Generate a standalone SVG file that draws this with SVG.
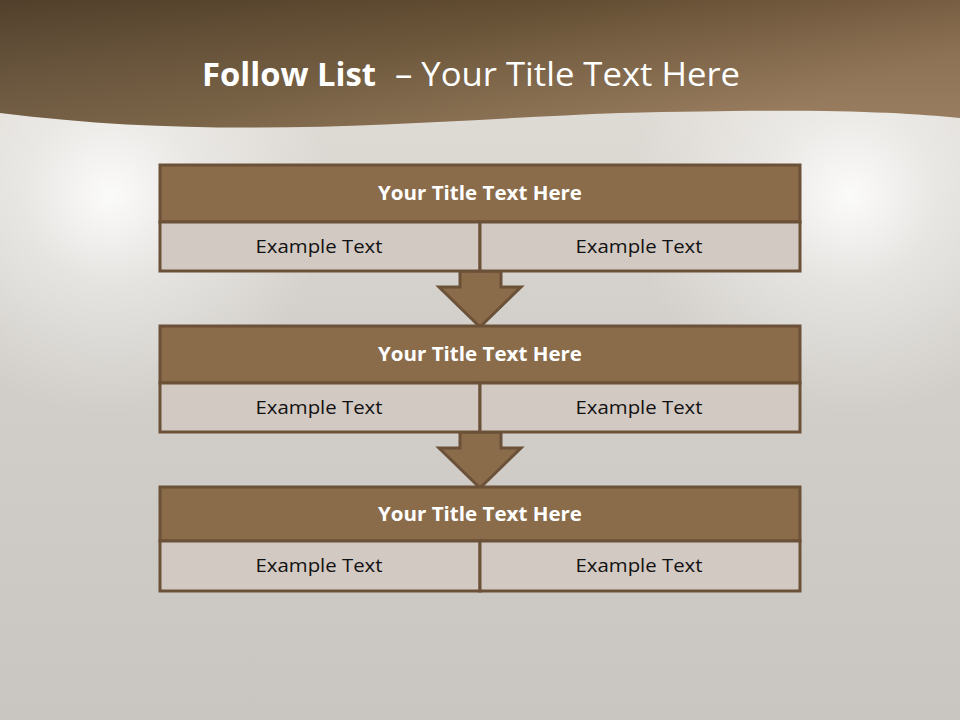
<svg xmlns="http://www.w3.org/2000/svg" width="960" height="720" viewBox="0 0 960 720">
<defs>
<linearGradient id="bg" x1="0" y1="0" x2="0" y2="1">
<stop offset="0" stop-color="#E4E0DA"/>
<stop offset="0.45" stop-color="#D3D0CB"/>
<stop offset="1" stop-color="#C9C6C2"/>
</linearGradient>
<radialGradient id="glowL" cx="110" cy="195" r="220" gradientUnits="userSpaceOnUse">
<stop offset="0" stop-color="#FFFFFF" stop-opacity="0.9"/>
<stop offset="0.4" stop-color="#FFFFFF" stop-opacity="0.4"/>
<stop offset="1" stop-color="#FFFFFF" stop-opacity="0"/>
</radialGradient>
<radialGradient id="glowR" cx="850" cy="195" r="220" gradientUnits="userSpaceOnUse">
<stop offset="0" stop-color="#FFFFFF" stop-opacity="0.9"/>
<stop offset="0.4" stop-color="#FFFFFF" stop-opacity="0.4"/>
<stop offset="1" stop-color="#FFFFFF" stop-opacity="0"/>
</radialGradient>
<linearGradient id="hdr" x1="0" y1="0" x2="1" y2="0.4">
<stop offset="0" stop-color="#5C4831"/>
<stop offset="0.5" stop-color="#6F5738"/>
<stop offset="1" stop-color="#917252"/>
</linearGradient>
<linearGradient id="hdrV" x1="0" y1="0" x2="0" y2="1">
<stop offset="0" stop-color="#000000" stop-opacity="0.12"/>
<stop offset="1" stop-color="#FFFFFF" stop-opacity="0.08"/>
</linearGradient>
<style>
.title{fill:#8A6B4A;stroke:#6B5138;stroke-width:3}
.cell{fill:#D3C9C3;stroke:#6B5138;stroke-width:3}
.arrow{fill:#8A6B4A;stroke:#6B5138;stroke-width:3;stroke-linejoin:miter}
.tt{font-family:"Open Sans","Liberation Sans",sans-serif;font-weight:bold;font-size:19px;fill:#FFFFFF;text-anchor:middle}
.et{font-family:"Open Sans","Liberation Sans",sans-serif;font-size:19px;fill:#111111;text-anchor:middle}
.ht{font-family:"Open Sans","Liberation Sans",sans-serif;font-size:32px;fill:#FFFFFF}
</style>
</defs>
<rect width="960" height="720" fill="url(#bg)"/>
<rect width="960" height="720" fill="url(#glowL)"/>
<rect width="960" height="720" fill="url(#glowR)"/>
<path d="M0,0 H960 V118 C900,112 820,108 620,113 C430,120 230,142 0,113 Z" fill="url(#hdr)"/>
<path d="M0,0 H960 V118 C900,112 820,108 620,113 C430,120 230,142 0,113 Z" fill="url(#hdrV)"/>
<text class="ht" x="202" y="86" font-weight="bold" textLength="174" lengthAdjust="spacingAndGlyphs">Follow List</text>
<text class="ht" x="395" y="86" textLength="345" lengthAdjust="spacingAndGlyphs">– Your Title Text Here</text>
<g id="connectors">
<path class="arrow" d="M460,271 H501 V287 H521 L480,327 L439,287 H460 Z"/>
<path class="arrow" d="M460,432 H501 V448 H521 L480,488 L439,448 H460 Z"/>
</g>
<g id="block1">
<rect class="title" x="160" y="165" width="640" height="57"/>
<rect class="cell" x="160" y="222" width="320" height="49"/>
<rect class="cell" x="480" y="222" width="320" height="49"/>
<text class="tt" x="480" y="200" textLength="204" lengthAdjust="spacingAndGlyphs">Your Title Text Here</text>
<text class="et" x="319" y="253" textLength="127" lengthAdjust="spacingAndGlyphs">Example Text</text>
<text class="et" x="639" y="253" textLength="127" lengthAdjust="spacingAndGlyphs">Example Text</text>
</g>
<g id="block2">
<rect class="title" x="160" y="326" width="640" height="57"/>
<rect class="cell" x="160" y="383" width="320" height="49"/>
<rect class="cell" x="480" y="383" width="320" height="49"/>
<text class="tt" x="480" y="361" textLength="204" lengthAdjust="spacingAndGlyphs">Your Title Text Here</text>
<text class="et" x="319" y="414" textLength="127" lengthAdjust="spacingAndGlyphs">Example Text</text>
<text class="et" x="639" y="414" textLength="127" lengthAdjust="spacingAndGlyphs">Example Text</text>
</g>
<g id="block3">
<rect class="title" x="160" y="487" width="640" height="54"/>
<rect class="cell" x="160" y="541" width="320" height="50"/>
<rect class="cell" x="480" y="541" width="320" height="50"/>
<text class="tt" x="480" y="521" textLength="204" lengthAdjust="spacingAndGlyphs">Your Title Text Here</text>
<text class="et" x="319" y="572" textLength="127" lengthAdjust="spacingAndGlyphs">Example Text</text>
<text class="et" x="639" y="572" textLength="127" lengthAdjust="spacingAndGlyphs">Example Text</text>
</g>
</svg>
